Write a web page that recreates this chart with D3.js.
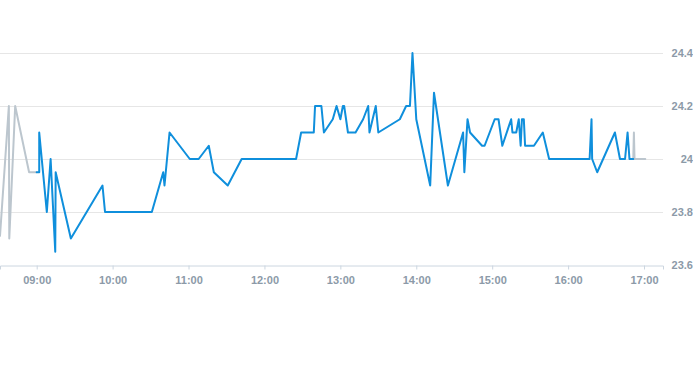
<!DOCTYPE html>
<html>
<head>
<meta charset="utf-8">
<script src="https://cdn.jsdelivr.net/npm/d3@7"></script>
<style>
  body { margin: 0; background: #fff; }
  svg { display: block; }
  .tick-label { font-family: "Liberation Sans", Arial, sans-serif; font-size: 11px; font-weight: bold; fill: #8c9aa8; }
</style>
</head>
<body>
<svg id="chart" width="693" height="365"></svg>
<script>
// intraday price chart -- pre/post market in grey, session in blue

var preMarket = [
  ["08:31", 23.71], ["08:38", 24.2], ["08:38:20", 23.7], ["08:43", 24.2],
  ["08:54", 23.95], ["09:00", 23.95]
];

var session = [
  ["09:00", 23.95], ["09:02", 23.95], ["09:02", 24.1], ["09:08", 23.8],
  ["09:11", 24.0], ["09:14:40", 23.65], ["09:15", 23.95], ["09:27", 23.7],
  ["09:52", 23.9], ["09:54", 23.8], ["10:31", 23.8], ["10:40", 23.95],
  ["10:41", 23.9], ["10:45", 24.1], ["11:01", 24.0], ["11:08", 24.0],
  ["11:16", 24.05], ["11:20", 23.95], ["11:31", 23.9], ["11:42", 24.0],
  ["12:25", 24.0], ["12:29", 24.1], ["12:39", 24.1], ["12:40", 24.2],
  ["12:45", 24.2], ["12:47", 24.1], ["12:54", 24.15], ["12:57", 24.2],
  ["13:00", 24.15], ["13:02", 24.2], ["13:03", 24.2], ["13:06", 24.1],
  ["13:12", 24.1], ["13:18", 24.15], ["13:22", 24.2], ["13:23", 24.1],
  ["13:28", 24.2], ["13:30", 24.1], ["13:47", 24.15], ["13:52", 24.2],
  ["13:55", 24.2], ["13:57", 24.4], ["14:00", 24.15], ["14:11", 23.9],
  ["14:14", 24.25], ["14:25", 23.9], ["14:37", 24.1], ["14:38", 23.95],
  ["14:40:30", 24.15], ["14:42:30", 24.1], ["14:52", 24.05], ["14:54", 24.05],
  ["15:02", 24.15], ["15:05", 24.15], ["15:08", 24.05], ["15:15", 24.15],
  ["15:16", 24.1], ["15:19", 24.1], ["15:21", 24.15], ["15:22:30", 24.05],
  ["15:23:30", 24.15], ["15:25", 24.15], ["15:26", 24.05], ["15:33", 24.05],
  ["15:40", 24.1], ["15:45", 24.0], ["16:17", 24.0], ["16:18:30", 24.15],
  ["16:19", 24.0], ["16:23", 23.95], ["16:37", 24.1], ["16:41", 24.0],
  ["16:45", 24.0], ["16:47", 24.1], ["16:48:30", 24.0], ["16:51:30", 24.0]
];

var postMarket = [
  ["16:51:30", 24.0], ["16:52", 24.1], ["16:52:30", 24.0], ["17:01", 24.0]
];

var xTicks = ["09:00", "10:00", "11:00", "12:00", "13:00", "14:00", "15:00", "16:00", "17:00"];
var yTicks = [23.6, 23.8, 24, 24.2, 24.4];

var parseTime = function (s) {
  var p = s.split(":").map(Number);
  return new Date(2020, 0, 2, p[0], p[1], p[2] || 0);
};

var svg = d3.select("#chart");
var plot = { left: 0, right: 663, top: 53, bottom: 265 };

var x = d3.scaleTime()
  .domain([parseTime("08:31"), parseTime("17:15")])
  .range([plot.left, plot.right]);

var y = d3.scaleLinear()
  .domain([23.6, 24.4])
  .range([plot.bottom, plot.top]);

// gridlines
svg.append("g")
  .selectAll("line")
  .data(yTicks.filter(function (d) { return d !== 23.6; }))
  .join("line")
  .attr("x1", plot.left)
  .attr("x2", plot.right)
  .attr("y1", function (d) { return Math.round(y(d)) + 0.5; })
  .attr("y2", function (d) { return Math.round(y(d)) + 0.5; })
  .attr("stroke", "#e6e6e6")
  .attr("stroke-width", 1);

// x axis
var xAxis = d3.axisBottom(x)
  .tickValues(xTicks.map(parseTime))
  .tickFormat(d3.timeFormat("%H:%M"))
  .tickSize(4)
  .tickPadding(6);

var gx = svg.append("g")
  .attr("transform", "translate(0," + (Math.round(y(23.6)) + 0.5) + ")")
  .call(xAxis);
gx.select(".domain").attr("stroke", "#ccd6e0");
gx.selectAll(".tick line").attr("stroke", "#ccd6e0");
gx.selectAll(".tick text")
  .attr("class", "tick-label")
  .attr("font-family", null)
  .attr("font-size", null)
  .attr("fill", null)
  .attr("dy", "0.75em");

// y axis labels on the right
var yAxis = d3.axisRight(y)
  .tickValues(yTicks)
  .tickFormat(d3.format("~g"))
  .tickSize(0)
  .tickPadding(0);

var gy = svg.append("g")
  .attr("transform", "translate(693,0)")
  .call(yAxis);
gy.select(".domain").remove();
gy.selectAll(".tick text")
  .attr("class", "tick-label")
  .attr("font-family", null)
  .attr("font-size", null)
  .attr("fill", null)
  .attr("text-anchor", "end")
  .attr("x", 0);

var line = d3.line()
  .x(function (d) { return x(parseTime(d[0])); })
  .y(function (d) { return y(d[1]); });

var drawLine = function (data, colour) {
  svg.append("path")
    .datum(data)
    .attr("d", line)
    .attr("fill", "none")
    .attr("stroke", colour)
    .attr("stroke-width", 2)
    .attr("stroke-linejoin", "round")
    .attr("stroke-linecap", "round");
};

drawLine(preMarket, "#bcc6ce");
drawLine(postMarket, "#bcc6ce");
drawLine(session, "#0f8fdc");
</script>
</body>
</html>
